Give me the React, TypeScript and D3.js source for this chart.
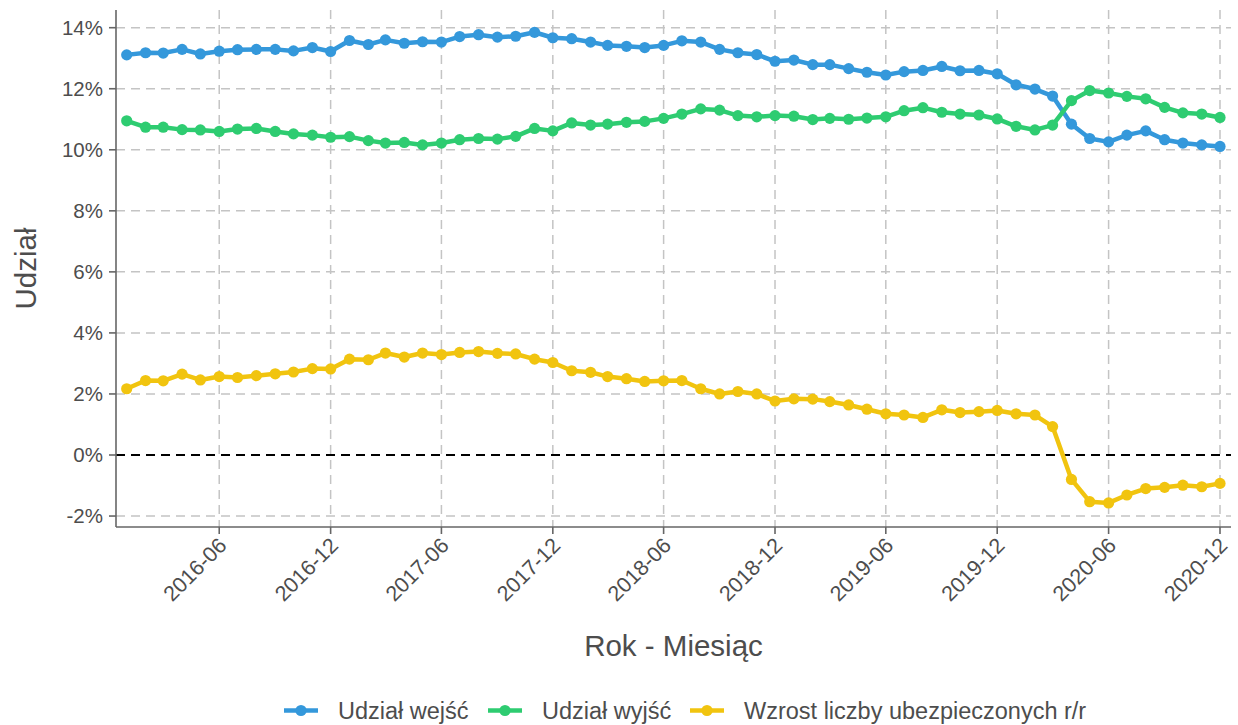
import React from "react";
import * as d3 from "d3";

const months: string[] = [
  "2016-01","2016-02","2016-03","2016-04","2016-05","2016-06","2016-07","2016-08","2016-09","2016-10","2016-11","2016-12",
  "2017-01","2017-02","2017-03","2017-04","2017-05","2017-06","2017-07","2017-08","2017-09","2017-10","2017-11","2017-12",
  "2018-01","2018-02","2018-03","2018-04","2018-05","2018-06","2018-07","2018-08","2018-09","2018-10","2018-11","2018-12",
  "2019-01","2019-02","2019-03","2019-04","2019-05","2019-06","2019-07","2019-08","2019-09","2019-10","2019-11","2019-12",
  "2020-01","2020-02","2020-03","2020-04","2020-05","2020-06","2020-07","2020-08","2020-09","2020-10","2020-11","2020-12",
];

const udzialWejsc: number[] = [
  13.11, 13.18, 13.17, 13.29, 13.14, 13.23, 13.28, 13.29, 13.29, 13.24, 13.35, 13.22,
  13.58, 13.45, 13.60, 13.49, 13.54, 13.53, 13.71, 13.77, 13.69, 13.72, 13.85, 13.67,
  13.64, 13.53, 13.42, 13.39, 13.35, 13.42, 13.57, 13.53, 13.29, 13.18, 13.12, 12.90,
  12.94, 12.79, 12.79, 12.66, 12.54, 12.45, 12.56, 12.60, 12.73, 12.59, 12.60, 12.49,
  12.13, 11.99, 11.76, 10.84, 10.37, 10.26, 10.48, 10.62, 10.33, 10.22, 10.16, 10.11,
];

const udzialWyjsc: number[] = [
  10.95, 10.74, 10.74, 10.66, 10.65, 10.60, 10.68, 10.70, 10.60, 10.52, 10.48, 10.41,
  10.43, 10.30, 10.22, 10.24, 10.16, 10.22, 10.33, 10.37, 10.35, 10.44, 10.70, 10.62,
  10.88, 10.81, 10.84, 10.90, 10.93, 11.03, 11.17, 11.34, 11.30, 11.12, 11.08, 11.12,
  11.10, 10.99, 11.03, 11.00, 11.04, 11.08, 11.28, 11.38, 11.23, 11.17, 11.14, 11.01,
  10.77, 10.65, 10.81, 11.61, 11.94, 11.86, 11.75, 11.67, 11.39, 11.21, 11.17, 11.06,
];

const wzrost: number[] = [
  2.17, 2.44, 2.43, 2.65, 2.46, 2.57, 2.54, 2.60, 2.66, 2.72, 2.83, 2.82,
  3.14, 3.12, 3.34, 3.21, 3.34, 3.29, 3.36, 3.39, 3.33, 3.31, 3.14, 3.03,
  2.76, 2.71, 2.57, 2.50, 2.41, 2.43, 2.44, 2.17, 2.00, 2.08, 2.00, 1.77,
  1.84, 1.83, 1.75, 1.64, 1.50, 1.35, 1.31, 1.23, 1.48, 1.39, 1.42, 1.46,
  1.35, 1.31, 0.93, -0.80, -1.53, -1.57, -1.31, -1.10, -1.06, -0.99, -1.04, -0.93,
];

const seriesNames: string[] = ["Udział wejść", "Udział wyjść", "Wzrost liczby ubezpieczonych r/r"];
const seriesColors: string[] = ["#3498DB", "#2ECC71", "#F1C40F"];
const xTickLabels: string[] = ["2016-06","2016-12","2017-06","2017-12","2018-06","2018-12","2019-06","2019-12","2020-06","2020-12"];
const yTicks: number[] = [-2, 0, 2, 4, 6, 8, 10, 12, 14];

const W = 1238;
const H = 725;
const panel = { left: 116, right: 1231, top: 10, bottom: 527 };
const FONT = "'Liberation Sans', Arial, Helvetica, sans-serif";
const TEXT = "#4D4D4D";

export default function App() {
  const parse = d3.timeParse("%Y-%m");
  const dates = months.map((m) => parse(m) as Date);
  const x = d3
    .scaleTime()
    .domain([dates[0], dates[dates.length - 1]])
    .range([126.7, 1220]);
  const y = d3.scaleLinear().domain([0, 14]).range([455, 27.7]);

  const allSeries = [udzialWejsc, udzialWyjsc, wzrost];
  const line = d3
    .line<number>()
    .x((_, i) => x(dates[i]))
    .y((d) => y(d));

  const legendX = [284, 488, 690];
  const legendY = 710.5;

  return (
    <svg
      width={W}
      height={H}
      style={{ position: "absolute", left: 0, top: 0, background: "#fff" }}
      fontFamily={FONT}
    >
      {/* grid */}
      <g stroke="#C4C4C4" strokeWidth={1.5} strokeDasharray="9,6" fill="none">
        {yTicks.map((t) => (
          <line key={"gy" + t} x1={panel.left} x2={panel.right} y1={y(t)} y2={y(t)} />
        ))}
        {xTickLabels.map((l) => {
          const xx = x(parse(l) as Date);
          return <line key={"gx" + l} x1={xx} x2={xx} y1={panel.top} y2={panel.bottom} />;
        })}
      </g>
      {/* zero line */}
      <line
        x1={panel.left}
        x2={panel.right}
        y1={y(0)}
        y2={y(0)}
        stroke="#000"
        strokeWidth={1.8}
        strokeDasharray="9,6"
      />
      {/* lines */}
      {allSeries.map((s, k) => (
        <path
          key={"l" + k}
          d={line(s) || ""}
          fill="none"
          stroke={seriesColors[k]}
          strokeWidth={4.5}
          strokeLinejoin="round"
          strokeLinecap="round"
        />
      ))}
      {/* points */}
      {allSeries.map((s, k) => (
        <g key={"p" + k} fill={seriesColors[k]}>
          {s.map((v, i) => (
            <circle key={i} cx={x(dates[i])} cy={y(v)} r={5.6} />
          ))}
        </g>
      ))}
      {/* axes */}
      <g stroke="#666" strokeWidth={1.6}>
        <line x1={panel.left} x2={panel.left} y1={panel.top} y2={panel.bottom} />
        <line x1={panel.left} x2={panel.right} y1={panel.bottom} y2={panel.bottom} />
        {yTicks.map((t) => (
          <line key={"ty" + t} x1={panel.left - 7} x2={panel.left} y1={y(t)} y2={y(t)} />
        ))}
        {xTickLabels.map((l) => {
          const xx = x(parse(l) as Date);
          return <line key={"tx" + l} x1={xx} x2={xx} y1={panel.bottom} y2={panel.bottom + 7} />;
        })}
      </g>
      {/* y tick labels */}
      <g fontSize={20.5} fill={TEXT} textAnchor="end">
        {yTicks.map((t) => (
          <text key={"yl" + t} x={panel.left - 13} y={y(t)} dy="0.36em">
            {t + "%"}
          </text>
        ))}
      </g>
      {/* x tick labels */}
      <g fontSize={21.5} fill={TEXT} textAnchor="end">
        {xTickLabels.map((l) => {
          const xx = x(parse(l) as Date);
          return (
            <text key={"xl" + l} transform={`translate(${xx - 2},${panel.bottom + 9}) rotate(-45)`} dy="0.71em">
              {l}
            </text>
          );
        })}
      </g>
      {/* axis titles */}
      <text
        x={(panel.left + panel.right) / 2}
        y={656}
        textAnchor="middle"
        fontSize={29.5}
        fill={TEXT}
      >
        Rok - Miesiąc
      </text>
      <text
        transform={`translate(36,${(panel.top + panel.bottom) / 2}) rotate(-90)`}
        textAnchor="middle"
        fontSize={29.5}
        fill={TEXT}
      >
        Udział
      </text>
      {/* legend */}
      {seriesNames.map((n, k) => (
        <g key={"lg" + k}>
          <line
            x1={legendX[k]}
            x2={legendX[k] + 34}
            y1={legendY}
            y2={legendY}
            stroke={seriesColors[k]}
            strokeWidth={4.5}
          />
          <circle cx={legendX[k] + 17} cy={legendY} r={5.6} fill={seriesColors[k]} />
          <text x={legendX[k] + 54} y={legendY} dy="0.36em" fontSize={23.5} fill={TEXT}>
            {n}
          </text>
        </g>
      ))}
    </svg>
  );
}
